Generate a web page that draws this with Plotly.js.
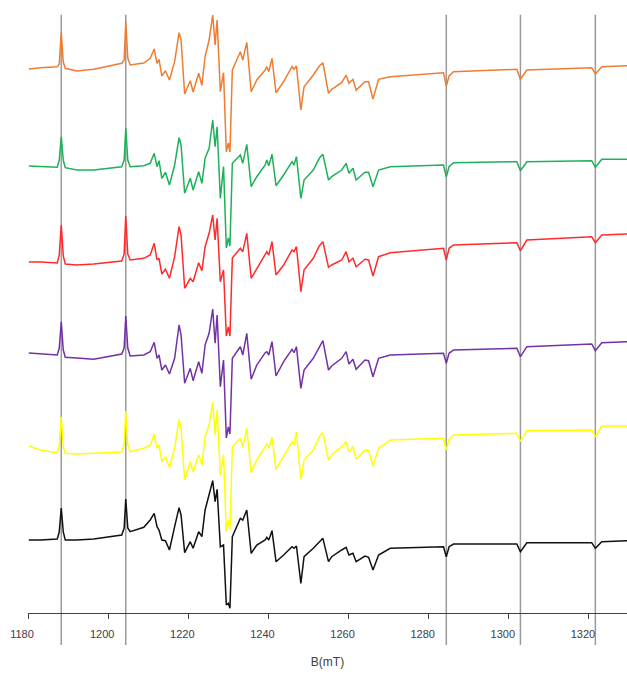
<!DOCTYPE html>
<html><head><meta charset="utf-8">
<script src="https://cdn.plot.ly/plotly-3.0.1.min.js"></script>
<style>html,body{margin:0;padding:0;background:#fff}#chart{width:627px;height:677px}</style>
</head><body><div id="chart"></div>
<script>
// Magnetic field (mT) sample points, shared by all six spectra
const fieldMT = [1180.2,1183.1,1187.3,1187.8,1188.3,1188.8,1189.3,1192.2,1196.4,1203.4,
1204.0,1204.4,1204.9,1205.5,1208.9,1210.5,1211.5,1212.2,1212.7,1213.4,
1214.3,1215.3,1216.6,1217.7,1218.2,1219.1,1220.5,1221.2,1222.6,1223.4,
1224.2,1225.2,1226.1,1226.7,1227.2,1228.0,1228.8,1229.5,1230.0,1230.4,
1231.0,1233.0,1233.6,1234.6,1235.7,1237.1,1239.2,1239.6,1240.1,1240.9,
1241.9,1243.8,1245.9,1246.4,1247.0,1248.1,1248.9,1251.2,1252.7,1253.6,
1255.0,1255.8,1258.3,1259.4,1260.1,1261.1,1261.9,1264.1,1265.0,1266.1,
1267.5,1270.4,1283.7,1284.4,1285.1,1286.2,1302.0,1302.9,1304.5,1320.7,
1321.6,1323.2,1329.5];

// Signal intensities (arbitrary units, relative to each spectrum's start)
const orangeSignal = [0,1.3,2.3,5,36.7,7,0.7,-2,-0.3,5.7,
9,47.3,11,4,6,10.7,20,5.7,9.7,-7,
-1.7,-11,7.3,36.3,29,-25,-11.7,-23,-4.3,-16.3,
12.3,29,54,24,49,-22.7,-3.7,-83,-74,-83,
-1,17.3,9,26.7,-22.7,-11,-1,2.3,-2.7,10.7,
-23.7,-12.7,2.3,-0.3,3,-41,-17.7,-6,3,6.3,
-24.3,-20.3,-13.7,-6,-14.3,-10.3,-21,-12.7,-12.7,-30,
-10.3,-7.7,-3.7,-17,-7,-2.7,-0.3,-10.3,-1,1.3,
-5,2.3,3.3];
const greenSignal = [0,-0.7,-1.3,6,29.3,6,-1.7,-4,-4,-0.7,
6,37.7,6,-0.7,0.3,2.7,12.7,-0.7,5.3,-12.3,
-6.3,-19,1,28.3,21,-27.3,-12.3,-24,-5.7,-17.3,
7.7,17.7,46,19.3,39.3,-32.3,-0.7,-82,-72,-80,
2.7,11,2.7,21.7,-20.7,-10.7,1,6,0.3,11.7,
-19.7,-9,4.3,1,9.3,-32.3,-14,-4,7.7,11.7,
-14,-10.7,-4,2.7,-7.3,-2.3,-14,-6.3,-6.3,-20.7,
-4,-0.7,1,-10.7,-0.7,3.3,4.3,-4.7,4.3,5.3,
-1.3,6.7,6.7];
const redSignal = [0,0,-1,7,37,6,-2,-3,-2,1,
8,46,8,2,3.7,7,18.7,2,3.7,-12,
-7.3,-16.3,5.3,35.3,27,-26.3,-16.3,-19.7,-0.7,-8.7,
15.3,28.7,47,22,43.7,-19.7,-8,-74,-65,-74,
4,13.7,10.3,28.7,-16.3,-6.3,8.7,10.3,7,20.3,
-13,-3,12,10.3,15.3,-29.7,-8,3.7,16,20.3,
-5.3,-3,2,10.3,0.3,3.7,-4.7,2.7,2,-14,
5.3,9.3,13.7,2,13.7,17,19.3,11.3,22,25.3,
19.3,27,28];
const purpleSignal = [0,-1,-2,5,31.3,3,-4.3,-5,-6.3,-1,
5,37,5,-3,-2,1.3,10.7,-5.3,-2,-17,
-12,-21,-5.3,28,18,-30.3,-15.3,-27.7,-8.7,-20.3,
8,19.7,44,9.7,38,-33.7,-7,-85,-74,-81,
-5.3,6.3,-2,19.7,-26.3,-12,0.3,1.3,-2,11.3,
-23,-8.7,3.7,0.3,6.3,-35.3,-17,-5.3,6.3,12.3,
-17,-13,-5.3,1.3,-11,-6.3,-16.3,-7,-7.7,-23.7,
-5.3,-2,-0.3,-10.3,-0.3,3,4.7,-3.7,6.3,9,
2.3,10.3,11.3];
const yellowSignal = [0,-4,-7,1,29.3,-1,-7.3,-8,-7.3,-6,
1,35,1,-5.7,-2.3,1,11.7,-2.3,1,-15.7,
-10.7,-21.3,-2.3,26.7,17.7,-34,-15.7,-25.7,-9,-19,
9.3,21,43.7,11,36,-29,-9,-86,-74,-84,
-0.7,7.7,-0.7,17.7,-26.7,-14,-0.7,2.7,-2.3,8.7,
-23.3,-10.7,4.3,1,14.3,-33.3,-14,-4,9.3,13.3,
-14,-9,-0.7,4.3,-5.7,-0.7,-13.3,-4,-4.7,-20,
-2.3,6,7.7,-4,6.7,11,12.7,4.3,15.3,16,
9.3,20,20];
const blackSignal = [0,0,1,8,32,8,0,0,1,5,
12,41,12,8.3,12.7,20,26.7,13.3,10,0,
-0.7,-10,13.3,32.3,25,-12.7,-1.7,-8.3,8.3,3.3,
30,45,59.3,38.3,50.7,-6.7,-5,-65,-63.3,-68.3,
3.3,21.7,20,30,-13.3,-5,0,2.7,0,9.3,
-21.7,-15,-6.7,-8.3,-6,-43.3,-16.7,-8.3,-1.7,1.7,
-21.7,-16.7,-10,-7.3,-15,-13.3,-21.7,-16,-17.3,-30,
-15,-8.3,-6.7,-16.7,-6.7,-4,-4,-11.7,-2.7,-2.7,
-8.3,-1.7,-0.7];

// Stacking offsets of the six spectra (top to bottom)
const seriesOffsets = [544, 447, 351, 260, 167, 73];
const seriesNames = ['orange', 'green', 'red', 'purple', 'yellow', 'black'];
const seriesColors = ['#EE7D31', '#1DB15A', '#FF2A2A', '#7232A6', '#FFFF00', '#111111'];
const seriesData = [orangeSignal, greenSignal, redSignal, purpleSignal, yellowSignal, blackSignal];

// Reference field positions (mT) marked by vertical lines
const refLinesMT = [1188.3, 1204.4, 1284.4, 1302.9, 1321.6];
const xTickVals = [1180, 1200, 1220, 1240, 1260, 1280, 1300, 1320];

const traces = seriesData.map((vals, i) => ({
  x: fieldMT,
  y: vals.map(v => v + seriesOffsets[i]),
  type: 'scatter',
  mode: 'lines',
  name: seriesNames[i],
  line: {color: seriesColors[i], width: 1.5, shape: 'linear'},
  hoverinfo: 'skip'
}));

const shapes = refLinesMT.map(v => ({
  type: 'line', xref: 'x', yref: 'paper',
  x0: v, x1: v, y0: -0.052, y1: 0.976,
  line: {color: '#9a9a9a', width: 1.5},
  layer: 'below'
}));

const layout = {
  width: 627, height: 677,
  margin: {l: 28, r: 0, t: 0, b: 64},
  paper_bgcolor: '#ffffff', plot_bgcolor: '#ffffff',
  showlegend: false,
  font: {family: 'Liberation Sans, Arial, sans-serif', color: '#404040', size: 11},
  xaxis: {
    range: [1180, 1329.5],
    tickvals: xTickVals,
    ticktext: xTickVals.map(String),
    showgrid: false, zeroline: false,
    showline: true, linecolor: '#404040', linewidth: 1,
    ticks: 'outside', ticklen: 5, tickcolor: '#404040',
    ticklabelstandoff: 6, ticklabelshift: -6,
    tickfont: {size: 11, color: '#404040'},
    title: {text: 'B(mT)', font: {size: 12, color: '#404040'}, standoff: 18}
  },
  yaxis: {range: [0, 613], visible: false, showgrid: false, zeroline: false},
  shapes: shapes
};

Plotly.newPlot('chart', traces, layout, {staticPlot: true, displayModeBar: false});
</script>
</body></html>
